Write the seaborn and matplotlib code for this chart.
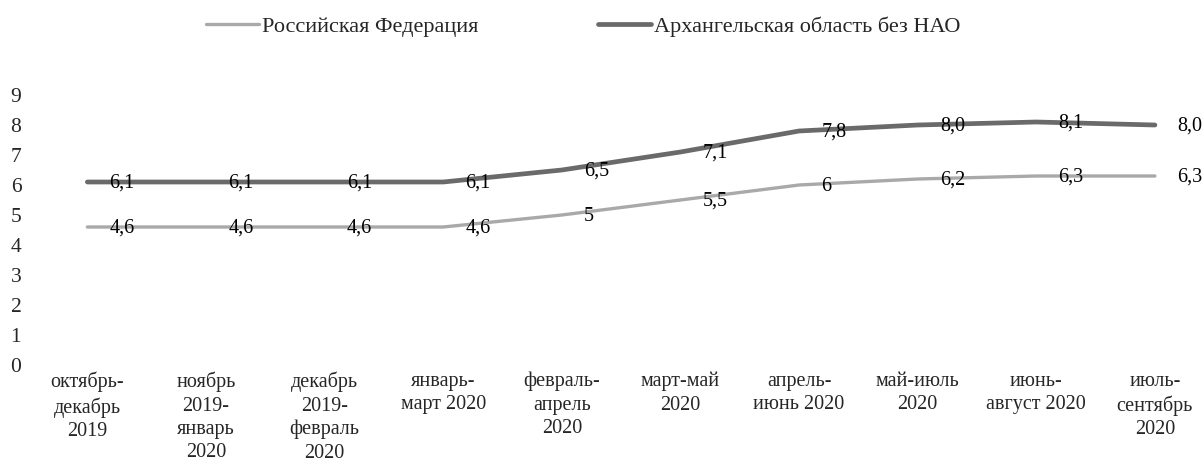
import pandas as pd
import matplotlib
matplotlib.use("Agg")
import matplotlib.pyplot as plt
import seaborn as sns

# data
periods = ["октябрь-\nдекабрь\n2019", "ноябрь\n2019-\nянварь\n2020",
           "декабрь\n2019-\nфевраль\n2020", "январь-\nмарт 2020",
           "февраль-\nапрель\n2020", "март-май\n2020", "апрель-\nиюнь 2020",
           "май-июль\n2020", "июнь-\nавгуст 2020", "июль-\nсентябрь\n2020"]
rf_values = [4.6, 4.6, 4.6, 4.6, 5.0, 5.5, 6.0, 6.2, 6.3, 6.3]
rf_labels = ["4,6", "4,6", "4,6", "4,6", "5", "5,5", "6", "6,2", "6,3", "6,3"]
arh_values = [6.1, 6.1, 6.1, 6.1, 6.5, 7.1, 7.8, 8.0, 8.1, 8.0]
arh_labels = ["6,1", "6,1", "6,1", "6,1", "6,5", "7,1", "7,8", "8,0", "8,1", "8,0"]
series_names = ["Российская Федерация", "Архангельская область без НАО"]

sns.set_style("white")
plt.rcParams["font.family"] = ["Liberation Serif", "DejaVu Serif"]

df = pd.DataFrame({
    "pos": list(range(len(periods))) * 2,
    "value": rf_values + arh_values,
    "series": [series_names[0]] * len(rf_values) + [series_names[1]] * len(arh_values),
})

fig = plt.figure(figsize=(12.03, 4.76), dpi=100)
ax = fig.add_axes([34 / 1203, 1 - 365 / 476, 1166 / 1203, 270 / 476])

colors = {series_names[0]: "#a9a9a9", series_names[1]: "#6a6a6a"}
widths = {series_names[0]: 2.4, series_names[1]: 3.4}
for name in series_names:
    sub = df[df["series"] == name]
    sns.lineplot(data=sub, x="pos", y="value", ax=ax, color=colors[name],
                 linewidth=widths[name], label=name)

for i, (v, t) in enumerate(zip(rf_values, rf_labels)):
    ax.annotate(t, (i, v), xytext=(16, -1), textcoords="offset points",
                ha="left", va="center", fontsize=14.5, color="black")
for i, (v, t) in enumerate(zip(arh_values, arh_labels)):
    ax.annotate(t, (i, v), xytext=(16, -1), textcoords="offset points",
                ha="left", va="center", fontsize=14.5, color="black")

ax.set_xlim(-0.45, 9.38)
ax.set_ylim(0, 9)
ax.set_yticks(range(0, 10))
ax.set_xticks(range(len(periods)))
ax.set_xticklabels(periods, fontsize=14.5, linespacing=1.3, va="top")
ax.tick_params(axis="y", labelsize=15.5, length=0, pad=13)
ax.tick_params(axis="x", length=0, pad=5)
for lbl in ax.get_yticklabels():
    lbl.set_horizontalalignment("center")
ax.set_xlabel("")
ax.set_ylabel("")
sns.despine(ax=ax, left=True, bottom=True)

handles, labels = ax.get_legend_handles_labels()
ax.get_legend().remove()
fig.legend(handles, labels, loc="center", bbox_to_anchor=(583 / 1203, 1 - 27 / 476),
           ncol=2, frameon=False, fontsize=16, handlelength=2.4, handletextpad=0.1,
           columnspacing=5.4)

fig.savefig("out.png", dpi=100, facecolor="white")
